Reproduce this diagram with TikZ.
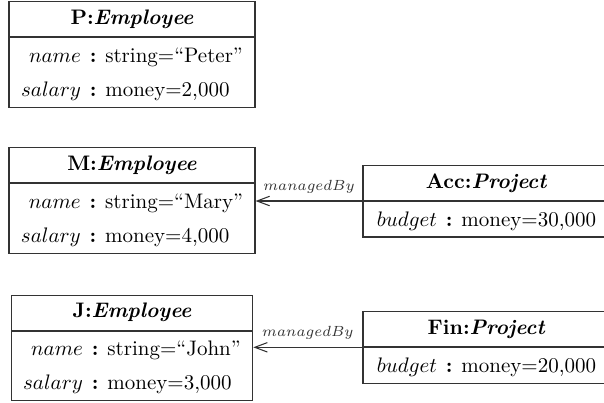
\documentclass[tikz,border=0pt]{standalone}
\usetikzlibrary{arrows.meta}
\newcommand{\sepcol}{\hspace{4.2pt}\textbf{:}\hspace{4.2pt}}
\begin{document}
\begin{tikzpicture}[x=0.47619pt,y=-0.47619pt,
  ln/.style={draw=black!80,line width=0.5pt},
  hdr/.style={ln,minimum width=117.14pt,minimum height=16.67pt,inner sep=0pt,anchor=south},
  attr/.style={ln,minimum width=117.14pt,inner sep=0pt,anchor=north},
  rel/.style={black!80,line width=0.5pt,-{Straight Barb[length=6pt,width=4.5pt]}},
  rlbl/.style={midway,above,inner sep=3.5pt,font=\fontsize{6.6}{8}\selectfont}]
\clip (0,0) rectangle (604,402);
\def\arraystretch{1.35}
% P
\node[hdr] (Ph) at (132,37) {\textbf{P:\textit{Employee}}};
\node[attr,minimum height=33.33pt] (Pa) at (132,37) {\begin{tabular}{@{}r@{\sepcol}l@{}}$name$ & string=``Peter''\\ $salary$ & money=2,000\end{tabular}};
% M
\node[hdr] (Mh) at (132,183.3) {\textbf{M:\textit{Employee}}};
\node[attr,minimum height=33.33pt] (Ma) at (132,183.3) {\begin{tabular}{@{}r@{\sepcol}l@{}}$name$ & string=``Mary''\\ $salary$ & money=4,000\end{tabular}};
% J
\node[hdr,minimum width=115pt] (Jh) at (132,330.7) {\textbf{J:\textit{Employee}}};
\node[attr,minimum width=115pt,minimum height=33.1pt] (Ja) at (132,330.7) {\begin{tabular}{@{}r@{\sepcol}l@{}}$name$ & string=``John''\\ $salary$ & money=3,000\end{tabular}};
% Acc
\node[hdr,minimum width=117.6pt,minimum height=16.8pt] (Ah) at (486.5,201) {\textbf{Acc:\textit{Project}}};
\node[attr,minimum width=117.6pt,minimum height=16.9pt] (Aa) at (486.5,201) {\begin{tabular}{@{}r@{\sepcol}l@{}}$budget$ & money=30,000\end{tabular}};
% Fin
\node[hdr,minimum width=117.6pt,minimum height=16.7pt] (Fh) at (486.5,347.3) {\textbf{Fin:\textit{Project}}};
\node[attr,minimum width=117.6pt,minimum height=16.9pt] (Fa) at (486.5,347.3) {\begin{tabular}{@{}r@{\sepcol}l@{}}$budget$ & money=20,000\end{tabular}};
% relations
\draw[rel] (Ah.south west) -- (Ah.south west -| Ma.east) node[rlbl] {$managedBy$};
\draw[rel] (Fh.south west) -- (Fh.south west -| Ja.east) node[rlbl] {$managedBy$};
\end{tikzpicture}
\end{document}
